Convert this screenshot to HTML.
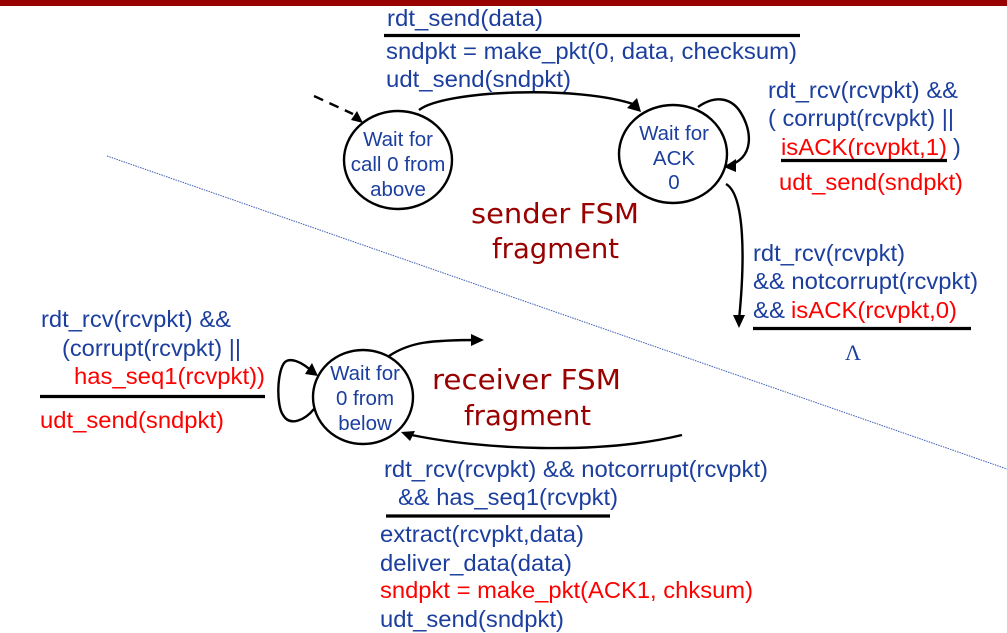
<!DOCTYPE html>
<html><head><meta charset="utf-8"><style>
html,body{margin:0;padding:0;background:#fff;width:1007px;height:633px;overflow:hidden}
svg{display:block}
text{font-family:"Liberation Sans",sans-serif;font-size:23.5px;fill:#1c3f9e}
.r{fill:#ff0000}
.s{font-size:20.5px;text-anchor:middle}
.f{font-family:"DejaVu Sans",sans-serif;font-size:28px;fill:#990000}
path,ellipse{fill:none;stroke:#000;stroke-width:2.4}
.h{fill:#000;stroke:none}
.b{stroke:#000;stroke-width:3.2;fill:none}
</style></head><body>
<svg width="1007" height="633" viewBox="0 0 1007 633" xmlns="http://www.w3.org/2000/svg">
<rect x="0" y="0" width="1007" height="6" fill="#990000"/>
<line x1="107" y1="156" x2="1007" y2="469" stroke="#3f5fb5" stroke-width="1" stroke-dasharray="1.5 1"/>

<text x="387" y="26" textLength="156" lengthAdjust="spacingAndGlyphs">rdt_send(data)</text>
<line class="b" x1="384" y1="35.500" x2="800" y2="35.500"/>
<text x="386" y="59" textLength="411" lengthAdjust="spacingAndGlyphs">sndpkt = make_pkt(0, data, checksum)</text>
<text x="386" y="87" textLength="185" lengthAdjust="spacingAndGlyphs">udt_send(sndpkt)</text>

<ellipse cx="398" cy="160" rx="54" ry="49"/>
<text class="s" x="398" y="146">Wait for</text>
<text class="s" x="398" y="171">call 0 from</text>
<text class="s" x="398" y="196">above</text>

<ellipse cx="673" cy="154" rx="54" ry="49"/>
<text class="s" x="674" y="140">Wait for</text>
<text class="s" x="674" y="165">ACK</text>
<text class="s" x="674" y="189">0</text>

<ellipse cx="363" cy="397" rx="50" ry="47"/>
<text class="s" x="365" y="380">Wait for</text>
<text class="s" x="365" y="405">0 from</text>
<text class="s" x="365" y="430">below</text>

<path d="M314 96 L353 114" stroke-dasharray="10 7"/>
<polygon class="h" points="363,123 351,120 357,111"/>
<path d="M419 110 C445 90 580 85 636 105"/>
<polygon class="h" points="641,112 627,108 637,98"/>
<path d="M698 107 C715 95 730 98 739 110 C753 130 755 160 726 166"/>
<polygon class="h" points="724,167 736,159 736,172"/>
<path d="M726 184 C745 195 745 260 739 320"/>
<polygon class="h" points="739,328 733,315 745,315"/>

<path d="M389 356 C410 342 430 340 480 340"/>
<polygon class="h" points="484,340 471,334 471,346"/>
<path d="M682 435 C600 455 480 450 407 434"/>
<polygon class="h" points="401,432 415,431 410,441"/>
<path d="M314 373 C300 360 290 358 285 362 C277 370 276 405 283 415 C290 427 305 420 314 409"/>
<polygon class="h" points="318,376 305,374 312,363"/>

<text x="768" y="98" textLength="190" lengthAdjust="spacingAndGlyphs">rdt_rcv(rcvpkt) &amp;&amp;</text>
<text x="768" y="126" textLength="186" lengthAdjust="spacingAndGlyphs">( corrupt(rcvpkt) ||</text>
<text class="r" x="781" y="155" textLength="166" lengthAdjust="spacingAndGlyphs">isACK(rcvpkt,1)</text>
<text x="953" y="155">)</text>
<line class="b" x1="781" y1="160.500" x2="947" y2="160.500"/>
<text class="r" x="779" y="190" textLength="184" lengthAdjust="spacingAndGlyphs">udt_send(sndpkt)</text>

<text x="753" y="261" textLength="152" lengthAdjust="spacingAndGlyphs">rdt_rcv(rcvpkt)</text>
<text x="753" y="289" textLength="225" lengthAdjust="spacingAndGlyphs">&amp;&amp; notcorrupt(rcvpkt)</text>
<text x="753" y="318" textLength="32" lengthAdjust="spacingAndGlyphs">&amp;&amp;</text>
<text class="r" x="791" y="318" textLength="166" lengthAdjust="spacingAndGlyphs">isACK(rcvpkt,0)</text>
<line class="b" x1="753" y1="328.500" x2="971" y2="328.500"/>
<text x="845" y="360" style="font-family:'Liberation Serif',serif;font-size:22px">Λ</text>

<text class="f" x="471" y="223" textLength="168" lengthAdjust="spacingAndGlyphs">sender FSM</text>
<text class="f" x="492" y="258" textLength="127" lengthAdjust="spacingAndGlyphs">fragment</text>
<text class="f" x="432" y="389" textLength="189" lengthAdjust="spacingAndGlyphs">receiver FSM</text>
<text class="f" x="464" y="425" textLength="127" lengthAdjust="spacingAndGlyphs">fragment</text>

<text x="41" y="327" textLength="190" lengthAdjust="spacingAndGlyphs">rdt_rcv(rcvpkt) &amp;&amp;</text>
<text x="62" y="356" textLength="179" lengthAdjust="spacingAndGlyphs">(corrupt(rcvpkt) ||</text>
<text class="r" x="74" y="384" textLength="191" lengthAdjust="spacingAndGlyphs">has_seq1(rcvpkt))</text>
<line class="b" x1="40" y1="396.500" x2="265" y2="396.500"/>
<text class="r" x="40" y="428" textLength="184" lengthAdjust="spacingAndGlyphs">udt_send(sndpkt)</text>

<text x="384" y="477" textLength="384" lengthAdjust="spacingAndGlyphs">rdt_rcv(rcvpkt) &amp;&amp; notcorrupt(rcvpkt)</text>
<text x="398" y="505" textLength="220" lengthAdjust="spacingAndGlyphs">&amp;&amp; has_seq1(rcvpkt)</text>
<line class="b" x1="386" y1="516" x2="610" y2="516"/>
<text x="380" y="542" textLength="204" lengthAdjust="spacingAndGlyphs">extract(rcvpkt,data)</text>
<text x="380" y="571" textLength="192" lengthAdjust="spacingAndGlyphs">deliver_data(data)</text>
<text class="r" x="380" y="598" textLength="373" lengthAdjust="spacingAndGlyphs">sndpkt = make_pkt(ACK1, chksum)</text>
<text x="380" y="627" textLength="184" lengthAdjust="spacingAndGlyphs">udt_send(sndpkt)</text>
</svg>
</body></html>
